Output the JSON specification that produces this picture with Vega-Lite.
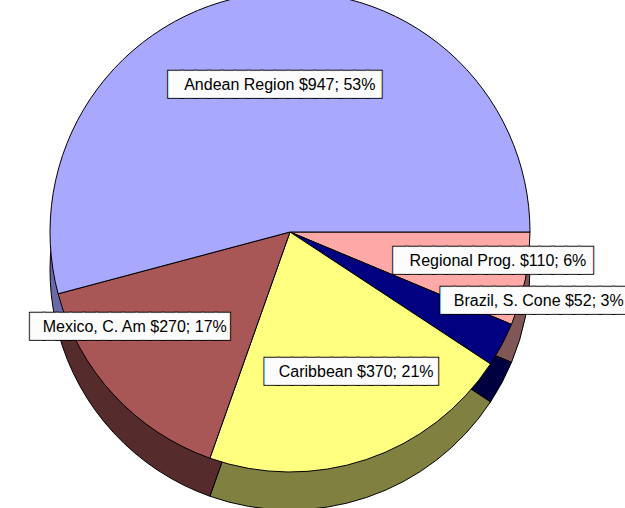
{
  "$schema": "https://vega.github.io/schema/vega-lite/v6.json",
  "autosize": {"type": "none"},
  "width": 580,
  "height": 464,
  "padding": {"left": 0, "top": 0, "right": 45, "bottom": 44},
  "background": "white",
  "config": {"view": {"stroke": null}},
  "data": {
    "values": [
      {"seq": 1, "name": "Regional Prog.", "value": 110, "label": "Regional Prog. $110; 6%"},
      {"seq": 2, "name": "Brazil, S. Cone", "value": 52, "label": "Brazil, S. Cone $52; 3%"},
      {"seq": 3, "name": "Caribbean", "value": 370, "label": "Caribbean $370; 21%"},
      {"seq": 4, "name": "Mexico, C. Am", "value": 270, "label": "Mexico, C. Am $270; 17%"},
      {"seq": 5, "name": "Andean Region", "value": 947, "label": "Andean Region $947; 53%"}
    ]
  },
  "encoding": {
    "theta": {"field": "value", "type": "quantitative", "stack": true, "scale": {"range": [1.5708, 7.854]}},
    "order": {"field": "seq", "type": "quantitative"}
  },
  "layer": [
    {
      "mark": {"type": "arc", "radius": 240, "yOffset": 38, "stroke": "black", "strokeWidth": 1},
      "encoding": {
        "color": {"field": "name", "type": "nominal", "legend": null,
          "scale": {"domain": ["Regional Prog.", "Brazil, S. Cone", "Caribbean", "Mexico, C. Am", "Andean Region"],
                    "range": ["#805656", "#000040", "#808040", "#562B2B", "#6A6AA8"]}}
      }
    },
    {
      "mark": {"type": "arc", "radius": 240, "stroke": "black", "strokeWidth": 1},
      "encoding": {
        "color": {"field": "name", "type": "nominal", "legend": null,
          "scale": {"domain": ["Regional Prog.", "Brazil, S. Cone", "Caribbean", "Mexico, C. Am", "Andean Region"],
                    "range": ["#FFA8A8", "#000080", "#FFFF80", "#A85656", "#A8A8FF"]}}
      }
    },
    {
      "mark": {"type": "text", "font": "DejaVu Sans Mono", "fontSize": 22, "align": "center", "baseline": "middle",
        "fill": "black", "stroke": "black", "strokeWidth": 3, "opacity": 0.99,
        "radius": {"expr": "datum.name === 'Andean Region' ? 148 : datum.name === 'Caribbean' ? 148 : datum.name === 'Regional Prog.' ? 207 : datum.name === 'Brazil, S. Cone' ? 250 : 180"},
        "dx": {"expr": "datum.name === 'Andean Region' ? 4 : datum.name === 'Caribbean' ? 14 : datum.name === 'Regional Prog.' ? 0 : datum.name === 'Brazil, S. Cone' ? 23 : -28"},
        "dy": {"expr": "datum.name === 'Andean Region' ? 0 : datum.name === 'Caribbean' ? 0 : datum.name === 'Regional Prog.' ? -12 : datum.name === 'Brazil, S. Cone' ? -48 : -27"}},
      "encoding": {
        "text": {"condition": [
          {"test": "datum.name === 'Andean Region'", "value": "████████████████"},
          {"test": "datum.name === 'Regional Prog.'", "value": "███████████████"},
          {"test": "datum.name === 'Brazil, S. Cone'", "value": "██████████████"},
          {"test": "datum.name === 'Caribbean'", "value": "█████████████"}
        ], "value": "███████████████"}
      }
    },
    {
      "mark": {"type": "text", "font": "DejaVu Sans Mono", "fontSize": 22, "align": "center", "baseline": "middle",
        "fill": "white", "stroke": "white", "strokeWidth": 1, "opacity": 0.99,
        "radius": {"expr": "datum.name === 'Andean Region' ? 148 : datum.name === 'Caribbean' ? 148 : datum.name === 'Regional Prog.' ? 207 : datum.name === 'Brazil, S. Cone' ? 250 : 180"},
        "dx": {"expr": "datum.name === 'Andean Region' ? 4 : datum.name === 'Caribbean' ? 14 : datum.name === 'Regional Prog.' ? 0 : datum.name === 'Brazil, S. Cone' ? 23 : -28"},
        "dy": {"expr": "datum.name === 'Andean Region' ? 0 : datum.name === 'Caribbean' ? 0 : datum.name === 'Regional Prog.' ? -12 : datum.name === 'Brazil, S. Cone' ? -48 : -27"}},
      "encoding": {
        "text": {"condition": [
          {"test": "datum.name === 'Andean Region'", "value": "████████████████"},
          {"test": "datum.name === 'Regional Prog.'", "value": "███████████████"},
          {"test": "datum.name === 'Brazil, S. Cone'", "value": "██████████████"},
          {"test": "datum.name === 'Caribbean'", "value": "█████████████"}
        ], "value": "███████████████"}
      }
    },
    {
      "mark": {"type": "text", "font": "Liberation Sans", "fontSize": 16, "align": "center", "baseline": "middle", "fill": "black",
        "radius": {"expr": "datum.name === 'Andean Region' ? 148 : datum.name === 'Caribbean' ? 148 : datum.name === 'Regional Prog.' ? 207 : datum.name === 'Brazil, S. Cone' ? 250 : 180"},
        "dx": {"expr": "datum.name === 'Andean Region' ? 9 : datum.name === 'Caribbean' ? 19 : datum.name === 'Regional Prog.' ? 5 : datum.name === 'Brazil, S. Cone' ? 28 : -23"},
        "dy": {"expr": "datum.name === 'Andean Region' ? 0 : datum.name === 'Caribbean' ? 0 : datum.name === 'Regional Prog.' ? -12 : datum.name === 'Brazil, S. Cone' ? -48 : -27"}},
      "encoding": {
        "text": {"field": "label", "type": "nominal"}
      }
    }
  ],
  "resolve": {"scale": {"color": "independent"}}
}
